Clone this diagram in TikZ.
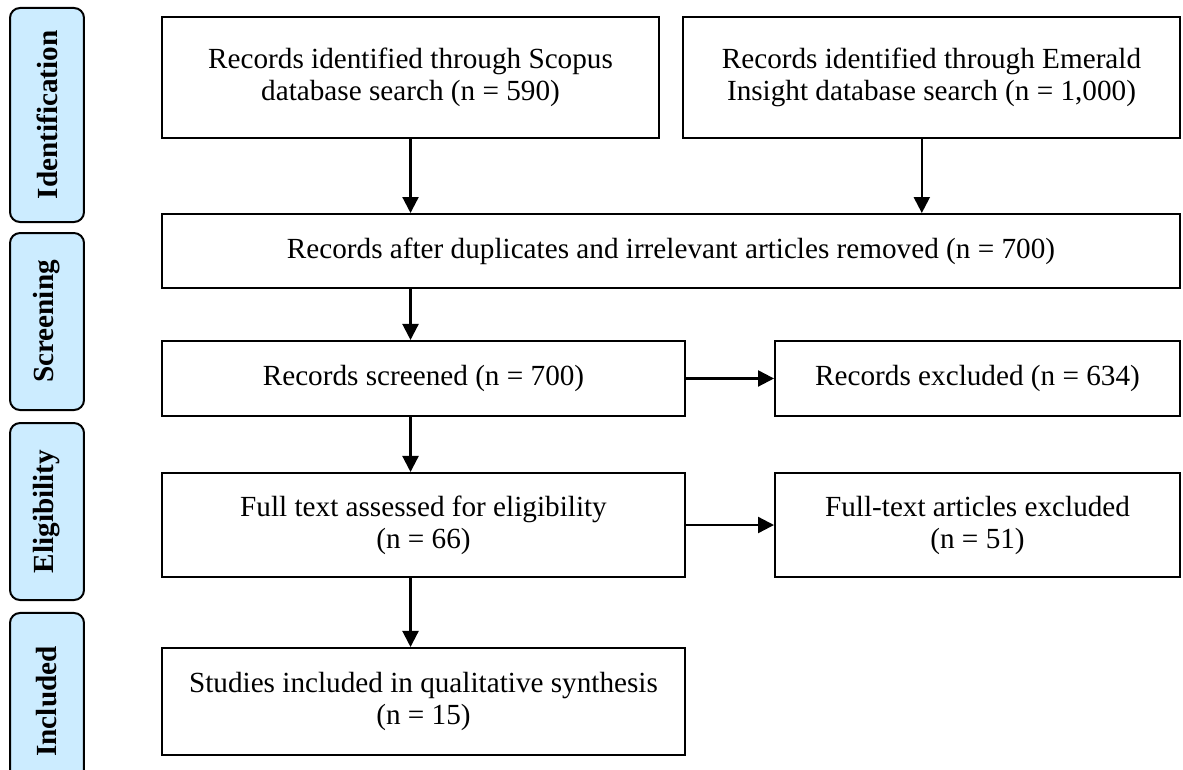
\documentclass[tikz,border=0pt]{standalone}
\usepackage{fontspec}
\setmainfont{Liberation Serif}
\usepackage{tikz}
\usetikzlibrary{arrows.meta,positioning,calc}
\usepackage{xcolor}
\definecolor{stageblue}{RGB}{204,236,255}

\begin{document}
\begin{tikzpicture}[>={Triangle[length=8pt,width=8pt]}, box/.style={draw,line width=1pt,align=center,inner sep=0pt,font=\fontsize{14.6}{16}\selectfont}, stage/.style={draw,line width=1pt,rounded corners=5pt,fill=stageblue,rotate=90,minimum width=3.11cm,minimum height=1.3cm,font=\bfseries\fontsize{14.6}{16}\selectfont}]
\useasboundingbox (0,0) rectangle (20.789,-13.514);
% stages
\node[stage,minimum width=3.761cm] (ident) at (0.826,-2.021) {Identification};
\node[stage] (screen) at (0.826,-5.650) {Screening};
\node[stage] (elig) at (0.826,-8.989) {Eligibility};
\node[stage] (incl) at (0.826,-12.327) {Included};
% records
\node[box,minimum width=8.734cm,minimum height=2.126cm] (scopus) at (7.214,-1.362) {Records identified through Scopus\\database search (n = 590)};
\node[box,minimum width=8.734cm,minimum height=2.126cm] (emerald) at (16.369,-1.362) {Records identified through Emerald\\Insight database search (n = 1,000)};
\node[box,minimum width=17.889cm,minimum height=1.300cm] (dedup) at (11.791,-4.411) {Records after duplicates and irrelevant articles removed (n = 700)};
\node[box,minimum width=9.191cm,minimum height=1.318cm] (screened) at (7.442,-6.651) {Records screened (n = 700)};
\node[box,minimum width=7.117cm,minimum height=1.318cm] (excl) at (17.178,-6.651) {Records excluded (n = 634)};
\node[box,minimum width=9.191cm,minimum height=1.828cm] (fulltext) at (7.442,-9.226) {Full text assessed for eligibility\\(n = 66)};
\node[box,minimum width=7.117cm,minimum height=1.828cm] (ftexcl) at (17.178,-9.226) {Full-text articles excluded\\(n = 51)};
\node[box,minimum width=9.191cm,minimum height=1.880cm] (studies) at (7.442,-12.327) {Studies included in qualitative synthesis\\(n = 15)};
% arrows
\draw[->,line width=1.1pt] (scopus.south) -- (scopus.south |- dedup.north);
\draw[->,line width=1.1pt] ($(emerald.south)+(-0.17,0)$) -- ($(emerald.south |- dedup.north)+(-0.17,0)$);
\draw[->,line width=1.1pt] (dedup.south -| scopus.south) -- (screened.north -| scopus.south);
\draw[->,line width=1.1pt] (screened.south -| scopus.south) -- (fulltext.north -| scopus.south);
\draw[->,line width=1.1pt] (fulltext.south -| scopus.south) -- (studies.north -| scopus.south);
\draw[->,line width=1.1pt] (screened) -- (excl);
\draw[->,line width=1.1pt] (fulltext) -- (ftexcl);
\end{tikzpicture}
\end{document}
